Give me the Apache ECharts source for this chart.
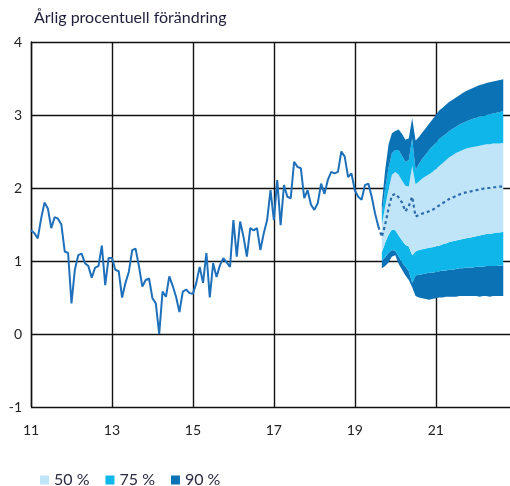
<!DOCTYPE html>
<html>
<head>
<meta charset="utf-8">
<script src="https://cdn.jsdelivr.net/npm/echarts@6/dist/echarts.min.js"></script>
<style>
html,body{margin:0;padding:0;background:#fff;}
#chart{width:510px;height:486px;}
</style>
</head>
<body>
<div id="chart"></div>
<script>
// Monthly axis: Jan 2011 .. Nov 2022
const startYear = 2011;
const monthCount = 143;
const categories = [];
for (let i = 0; i < monthCount; i++) {
  const y = startYear + Math.floor(i / 12);
  const m = (i % 12) + 1;
  categories.push(y + '-' + (m < 10 ? '0' + m : m));
}

// Outcome, annual % change, Jan 2011 onwards (monthly)
const outcome = [
  1.42,1.38,1.31,1.58,1.80,1.72,1.45,1.60,1.58,1.50,
  1.13,1.11,0.42,0.88,1.08,1.10,0.97,0.93,0.77,0.91,
  0.93,1.21,0.67,1.04,1.04,0.88,0.86,0.50,0.70,0.85,
  1.15,1.17,0.93,0.65,0.74,0.76,0.49,0.42,0.00,0.58,
  0.51,0.79,0.66,0.51,0.30,0.58,0.61,0.56,0.55,0.70,
  0.92,0.70,1.11,0.50,0.97,0.78,0.94,1.04,0.98,0.92,
  1.56,1.06,1.54,1.33,1.06,1.45,1.42,1.45,1.15,1.38,
  1.56,1.97,1.56,2.11,1.49,2.04,1.88,1.86,2.36,2.29,
  2.27,1.86,1.97,1.77,1.70,1.79,2.06,1.92,2.11,2.22,
  2.20,2.22,2.50,2.43,2.15,2.20,1.97,1.88,1.84,2.04,
  2.06,1.88,1.65,1.47
];

// Forecast median, starts at month index 103
const medianStart = 103;
const median = [
  1.47,1.33,1.50,1.72,1.90,1.92,1.87,1.80,1.68,1.75,
  1.88,1.61,1.63,1.65,1.66,1.68,1.70,1.73,1.76,1.79,
  1.82,1.85,1.87,1.89,1.91,1.93,1.94,1.95,1.96,1.97,
  1.98,1.99,2.00,2.00,2.01,2.01,2.02,2.02
];

// Uncertainty bands, start at month index 104
const bandStart = 104;
const upper90 = [
  1.78,2.25,2.60,2.75,2.78,2.80,2.74,2.66,2.68,2.96,
  2.65,2.70,2.76,2.82,2.88,2.94,3.00,3.06,3.10,3.14,
  3.18,3.21,3.24,3.27,3.30,3.33,3.35,3.37,3.39,3.41,
  3.42,3.44,3.45,3.46,3.47,3.48,3.49
];
const upper75 = [
  1.65,2.00,2.28,2.48,2.52,2.52,2.44,2.36,2.38,2.68,
  2.25,2.33,2.40,2.46,2.52,2.57,2.62,2.67,2.71,2.74,
  2.78,2.81,2.84,2.87,2.89,2.91,2.93,2.95,2.96,2.98,
  2.99,3.00,3.01,3.02,3.03,3.04,3.05
];
const upper50 = [
  1.50,1.75,1.98,2.18,2.22,2.18,2.10,2.03,2.02,2.30,
  2.05,2.09,2.13,2.16,2.19,2.22,2.26,2.30,2.34,2.38,
  2.42,2.45,2.48,2.50,2.52,2.54,2.55,2.56,2.57,2.58,
  2.59,2.60,2.60,2.61,2.61,2.61,2.62
];
const lower50 = [
  1.12,1.25,1.36,1.43,1.42,1.35,1.28,1.22,1.20,1.08,
  1.13,1.15,1.16,1.17,1.18,1.19,1.20,1.21,1.23,1.24,
  1.26,1.27,1.28,1.29,1.30,1.31,1.32,1.33,1.34,1.35,
  1.36,1.37,1.37,1.38,1.39,1.39,1.40
];
const lower75 = [
  1.00,1.05,1.11,1.15,1.14,1.06,0.98,0.92,0.86,0.70,
  0.80,0.81,0.82,0.83,0.84,0.84,0.85,0.86,0.87,0.87,
  0.88,0.88,0.89,0.90,0.90,0.91,0.91,0.91,0.92,0.92,
  0.92,0.93,0.93,0.93,0.93,0.94,0.94
];
const lower90 = [
  0.90,0.93,0.98,1.06,1.08,0.96,0.88,0.80,0.74,0.64,
  0.52,0.50,0.49,0.48,0.47,0.48,0.49,0.50,0.50,0.51,
  0.51,0.51,0.51,0.52,0.52,0.52,0.52,0.52,0.52,0.51,
  0.52,0.52,0.51,0.52,0.52,0.52,0.52
];

const yTicks = [-1, 0, 1, 2, 3, 4];
const legendNames = ['50 %', '75 %', '90 %'];
const titleText = 'Årlig procentuell förändring';

const C_DARK = '#0b72b6';
const C_MID = '#0fb6ea';
const C_LIGHT = '#c0e5f9';

function pad(arr, start) {
  const out = new Array(start).fill(null);
  return out.concat(arr);
}
function diff(a, b) {
  return a.map((v, i) => +(v - b[i]).toFixed(4));
}

const font = 'Lato, "Open Sans", sans-serif';

function band(name, values, color) {
  return {
    name: name,
    type: 'line',
    stack: 'fan',
    data: pad(values, bandStart),
    symbol: 'none',
    showSymbol: false,
    lineStyle: { width: 0, opacity: 0 },
    itemStyle: { color: color },
    areaStyle: { color: color, opacity: 1 },
    silent: true,
    z: 2
  };
}

const chart = echarts.init(document.getElementById('chart'), null, { renderer: 'canvas' });
chart.setOption({
  animation: false,
  backgroundColor: '#ffffff',
  title: {
    text: titleText,
    left: 29,
    top: 5,
    textStyle: { fontSize: 16, fontWeight: 'normal', color: '#1e1e3a', fontFamily: font }
  },
  legend: {
    data: legendNames,
    left: 35,
    top: 467,
    icon: 'rect',
    itemWidth: 9,
    itemHeight: 9,
    itemGap: 16,
    textStyle: { fontSize: 16, color: '#2a2a40', fontFamily: font },
    selectedMode: false
  },
  grid: { left: 31, right: 0, top: 42, bottom: 79 },
  xAxis: {
    type: 'category',
    data: categories,
    boundaryGap: false,
    axisLine: { show: false },
    axisTick: { show: false },
    axisLabel: {
      interval: 23,
      margin: 16,
      fontSize: 14,
      color: '#222',
      fontFamily: font,
      formatter: function (v) { return v.slice(2, 4); }
    },
    splitLine: { show: true, interval: 23, lineStyle: { color: '#111', width: 1.4 } }
  },
  yAxis: {
    type: 'value',
    min: yTicks[0],
    max: yTicks[yTicks.length - 1],
    interval: 1,
    axisLine: { show: true, lineStyle: { color: '#111', width: 1.4 } },
    axisTick: { show: false },
    axisLabel: { margin: 9, fontSize: 14, color: '#222', fontFamily: font },
    splitLine: { show: true, lineStyle: { color: '#111', width: 1.4 } }
  },
  series: [
    {
      name: 'base',
      type: 'line',
      stack: 'fan',
      data: pad(lower90, bandStart),
      symbol: 'none',
      lineStyle: { width: 0, opacity: 0 },
      silent: true,
      z: 2
    },
    band('90 %', diff(lower75, lower90), C_DARK),
    band('75 %', diff(lower50, lower75), C_MID),
    band('50 %', diff(upper50, lower50), C_LIGHT),
    band('75 %', diff(upper75, upper50), C_MID),
    band('90 %', diff(upper90, upper75), C_DARK),
    {
      name: 'median',
      type: 'line',
      data: pad(median, medianStart),
      symbol: 'none',
      lineStyle: { color: '#2c6cad', width: 2.2, type: [3, 3] },
      silent: true,
      z: 4
    },
    {
      name: 'utfall',
      type: 'line',
      data: outcome,
      symbol: 'none',
      lineStyle: { color: '#1f70ba', width: 2 },
      silent: true,
      z: 5
    }
  ]
});
</script>
</body>
</html>
